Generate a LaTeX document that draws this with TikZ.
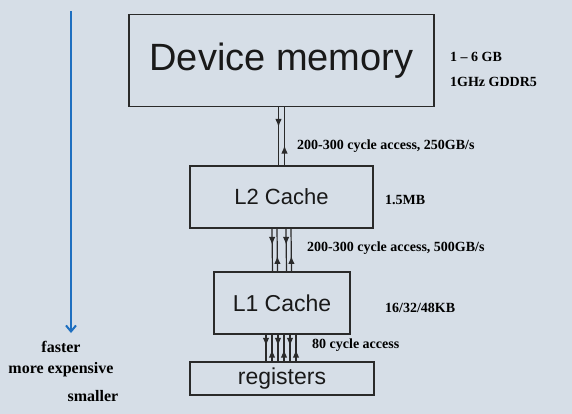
\documentclass[tikz,border=0pt]{standalone}
\usepackage{fontspec}
\setmainfont{Liberation Serif}
\newfontfamily\boxfont{Liberation Sans}
\usetikzlibrary{arrows.meta,decorations.markings}
\definecolor{bg}{HTML}{D6DEE7}
\definecolor{edge}{HTML}{2A2A2A}
\definecolor{blueline}{HTML}{1E6FC0}
\tikzset{
 membox/.style={draw=edge,line width=1.5pt,inner sep=0pt,text=black!90},
 lbl/.style={font=\bfseries\fontsize{14}{16}\selectfont,anchor=west,inner sep=0pt},
 side/.style={font=\bfseries\fontsize{16}{18}\selectfont,inner sep=0pt},
 link/.style={draw=edge,line width=1.2pt,postaction={decorate},
   decoration={markings,mark=at position #1 with {\arrow{Latex[length=8pt,width=6.5pt]}}}},
 link/.default=0.34,
}
\begin{document}
\begin{tikzpicture}[x=1pt,y=-1pt]
\fill[bg] (0,0) rectangle (572,414);
\useasboundingbox (0,0) rectangle (572,414);
% boxes
\node[membox,minimum width=305pt,minimum height=92pt,font=\boxfont\fontsize{38}{40}\selectfont] (dev) at (281.5,60.5) {Device memory};
\node[membox,minimum width=183pt,minimum height=62pt,font=\boxfont\fontsize{22}{24}\selectfont] (l2) at (281.5,197) {L2 Cache};
\node[membox,minimum width=136pt,minimum height=62pt,font=\boxfont\fontsize{23}{25}\selectfont] (l1) at (282,303) {L1 Cache};
\node[membox,minimum width=184pt,minimum height=33pt,font=\boxfont\fontsize{23}{25}\selectfont] (reg) at (282,378.5) {registers};
% device <-> L2
\draw[link] ([xshift=-3pt]dev.south) -- ([xshift=-3pt]l2.north);
\draw[link] ([xshift=3pt]l2.north) -- ([xshift=3pt]dev.south);
% L2 <-> L1
\foreach \d in {-9.5,4.5}{
  \draw[link=0.38] ([xshift=\d pt]l2.south) -- ([xshift=\d pt]l1.north);
}
\foreach \u in {-4.5,9.5}{
  \draw[link=0.36] ([xshift=\u pt]l1.north) -- ([xshift=\u pt]l2.south);
}
% L1 <-> registers
\foreach \d in {-16,-4,8}{
  \draw[link=0.42] ([xshift=\d pt]l1.south) -- ([xshift=\d pt]reg.north);
}
\foreach \u in {-10,2,14}{
  \draw[link=0.44] ([xshift=\u pt]reg.north) -- ([xshift=\u pt]l1.south);
}
% labels
\node[lbl] (t1) at (450,57) {1 -- 6 GB};
\node[lbl] (t2) at (450,82) {1GHz GDDR5};
\node[lbl] (t3) at (297,146) {200-300 cycle access, 250GB/s};
\node[lbl] (t4) at (385,200) {1.5MB};
\node[lbl] (t5) at (307,248) {200-300 cycle access, 500GB/s};
\node[lbl] (t6) at (385,308) {16/32/48KB};
\node[lbl] (t7) at (312,345) {80 cycle access};
% left side
\coordinate (btop) at (71,11);
\coordinate (bbot) at (71,333);
\draw[blueline,line width=2pt,-{Straight Barb[length=6pt,width=10pt,line width=2pt]}] (btop) -- (bbot);
\node[side] (s1) at (61,347) {faster};
\node[side] (s2) at (61,370) {more expensive};
\node[side] (s3) at (93,396) {smaller};
\end{tikzpicture}
\end{document}
